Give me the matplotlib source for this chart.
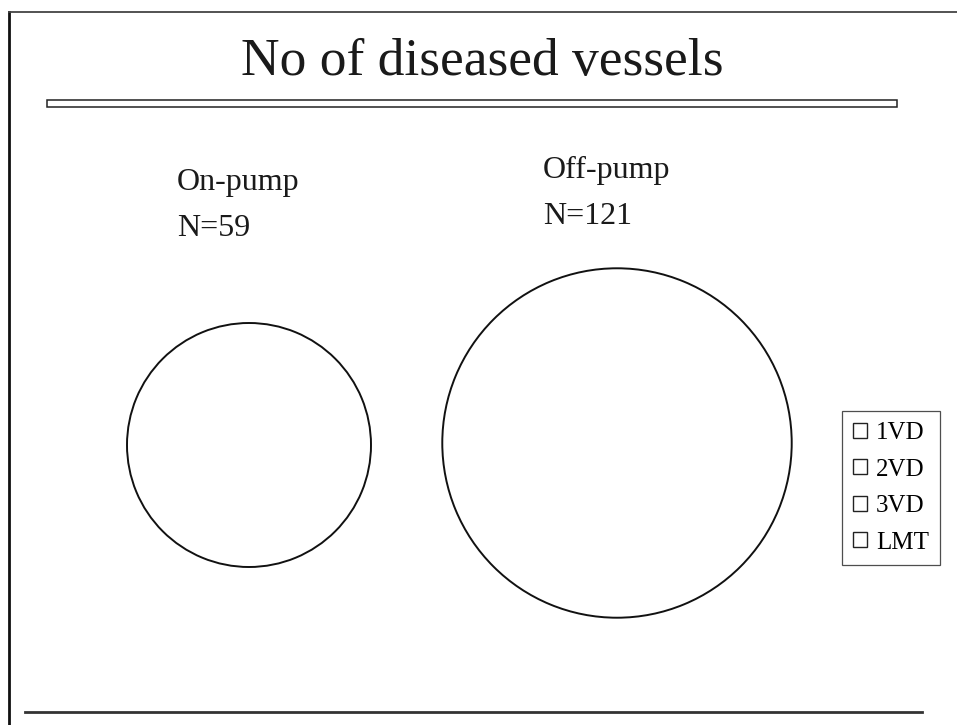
import numpy as np
import matplotlib
matplotlib.use('Agg')
import matplotlib.pyplot as plt
from matplotlib.patches import Patch, Rectangle

# data
title = 'No of diseased vessels'
groups = ['On-pump', 'Off-pump']
n_patients = [59, 121]
categories = ['1VD', '2VD', '3VD', 'LMT']

plt.rcParams['font.family'] = ['Liberation Serif', 'DejaVu Serif']

fig = plt.figure(figsize=(9.57, 7.25), dpi=100)
ax = fig.add_axes([0, 0, 1, 1])

# pies: area proportional to N
centers = [(249, 445), (617, 443)]
k = 122 / np.sqrt(n_patients[0])
for (cx, cy), n in zip(centers, n_patients):
    ax.pie([n], radius=k * np.sqrt(n), center=(cx, cy), colors=['white'],
           startangle=90, wedgeprops=dict(edgecolor='#111111', linewidth=1.4))

# group labels
label_pos = [(177, 190), (543, 178)]
for (x, y), g, n in zip(label_pos, groups, n_patients):
    ax.text(x, y, g, fontsize=23, color='#1a1a1a', ha='left', va='baseline')
    ax.text(x, y + 46, 'N=%d' % n, fontsize=23, color='#1a1a1a', ha='left', va='baseline')

# title and the double rule under it
ax.text(482, 75, title, fontsize=38.5, color='#1a1a1a', ha='center', va='baseline')
ax.add_patch(Rectangle((47, 100), 850, 7, facecolor='white', edgecolor='#222222', lw=1.1))

# slide border lines
ax.plot([9, 9], [12, 725], color='#111111', lw=2.0)
ax.plot([9, 957], [12, 12], color='#444444', lw=1.3)
ax.plot([25, 922], [712, 712], color='#333333', lw=2.0)

handles = [Patch(facecolor='white', edgecolor='#222222', lw=1.0) for _ in categories]
leg = ax.legend(handles, categories, loc='upper left', bbox_to_anchor=(842 / 957, 1 - 411 / 725),
                fontsize=18, frameon=True, fancybox=False, handlelength=0.55, handleheight=0.55,
                handletextpad=0.35, labelspacing=0.58, borderpad=0.45, borderaxespad=0)
leg.get_frame().set_edgecolor('#222222')
leg.get_frame().set_linewidth(0.9)

ax.set_xlim(0, 957)
ax.set_ylim(725, 0)
ax.set_aspect('auto')
ax.axis('off')

fig.savefig('out.png', dpi=100)
